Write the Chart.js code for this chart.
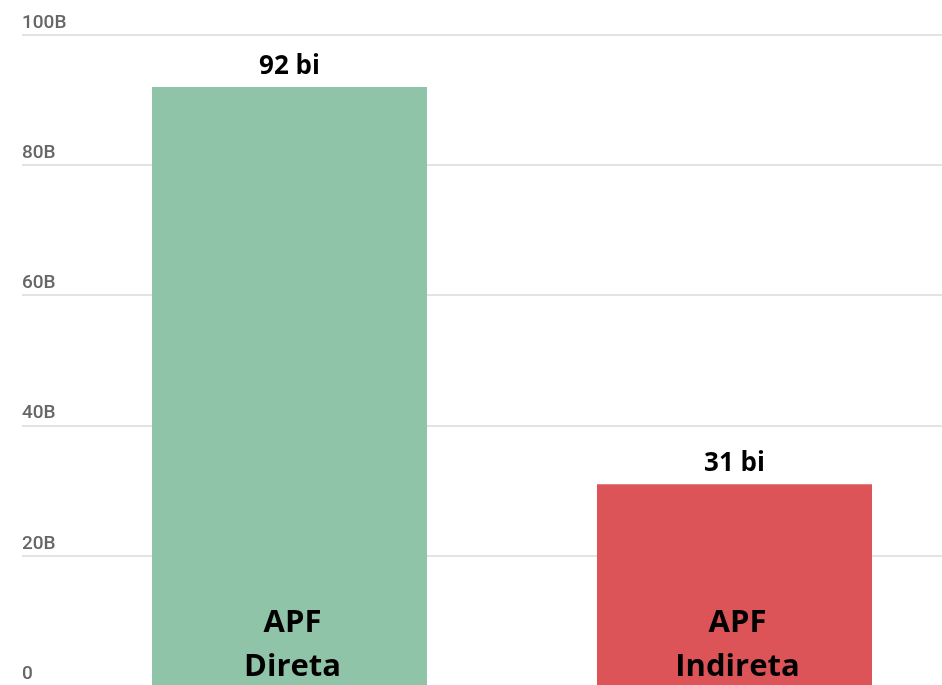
<!DOCTYPE html>
<html>
<head>
<meta charset="utf-8">
<script src="https://cdn.jsdelivr.net/npm/chart.js@4"></script>
<style>
  html, body { margin: 0; padding: 0; background: #fff; overflow: hidden; }
  #wrap { position: relative; width: 960px; height: 700px; }
</style>
</head>
<body>
<div id="wrap"><canvas id="chart"></canvas></div>
<script>
// ---- data ----
const categories  = [['APF', 'Direta'], ['APF', 'Indireta']];
const values      = [92, 31];           // bilhões
const valueLabels = ['92 bi', '31 bi'];
const barColors   = ['#8fc4a8', '#dc5457'];
const tickLabels  = { 0: '0', 20: '20B', 40: '40B', 60: '60B', 80: '80B', 100: '100B' };

// Draws the value above each bar and the category name inside its foot
const barLabels = {
  id: 'barLabels',
  afterDatasetsDraw(chart) {
    const ctx = chart.ctx;
    const meta = chart.getDatasetMeta(0);
    ctx.save();
    ctx.fillStyle = '#000';
    ctx.textAlign = 'center';
    ctx.textBaseline = 'alphabetic';
    meta.data.forEach((bar, i) => {
      ctx.font = 'bold 26px "Open Sans"';
      ctx.fillText(valueLabels[i], bar.x, bar.y - 13);

      ctx.font = 'bold 31px "Open Sans"';
      const lines = categories[i];
      lines.forEach((line, j) => {
        const fromBottom = (lines.length - 1 - j) * 44 + 9;
        ctx.fillText(line, bar.x + 3, bar.base - fromBottom);
      });
    });
    ctx.restore();
  }
};

new Chart(document.getElementById('chart'), {
  type: 'bar',
  data: {
    labels: categories.map(c => c.join(' ')),
    datasets: [{
      data: values,
      backgroundColor: barColors,
      borderWidth: 0,
      barPercentage: 0.618,
      categoryPercentage: 1,
    }]
  },
  options: {
    responsive: true,
    maintainAspectRatio: false,
    animation: false,
    layout: { padding: { left: 22, right: 3, top: 35, bottom: 14 } },
    plugins: {
      legend: { display: false },
      tooltip: { enabled: false }
    },
    scales: {
      x: { display: false },
      y: {
        min: 0,
        max: 100,
        afterFit: s => { s.width = 45; },
        border: { display: false },
        grid: { color: '#e3e3e3', lineWidth: 2, drawTicks: true, tickLength: 45 },
        ticks: {
          stepSize: 20,
          crossAlign: 'far',
          padding: 0,
          labelOffset: -12,
          color: '#666',
          font: { family: 'Roboto', size: 19, weight: '500' },
          callback: v => tickLabels[v]
        }
      }
    }
  },
  plugins: [barLabels]
});
</script>
</body>
</html>
